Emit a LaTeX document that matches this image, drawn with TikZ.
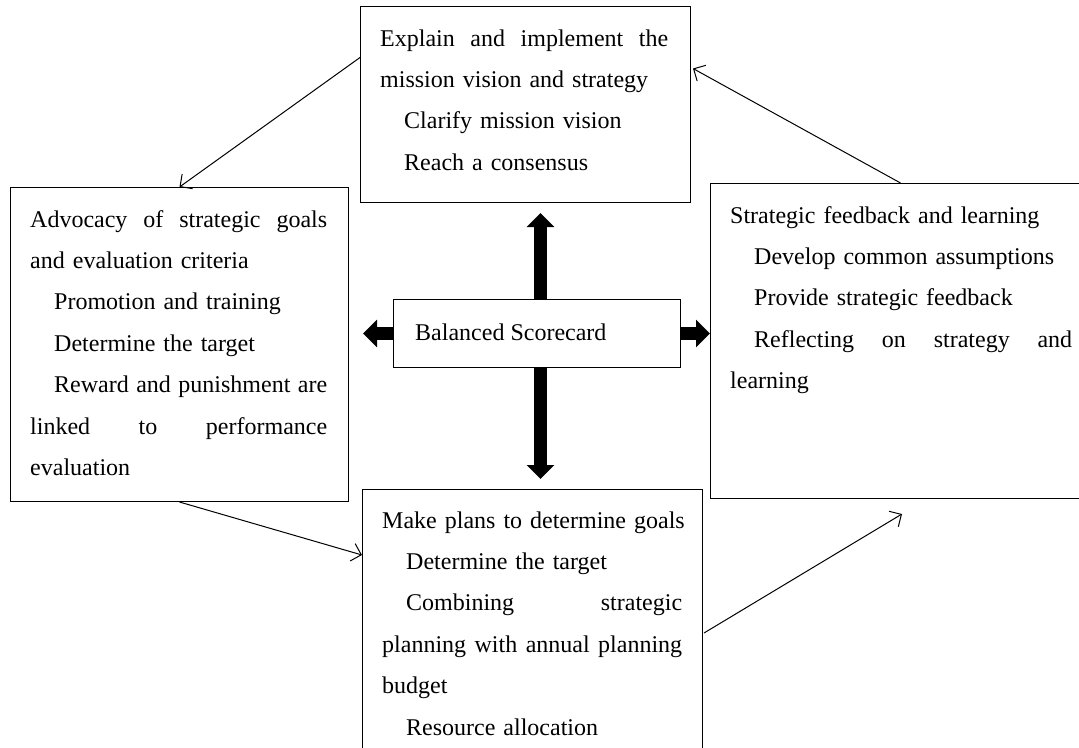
\documentclass[tikz,border=0pt]{standalone}
\usepackage{fontspec}
\setmainfont{Liberation Serif}
\usetikzlibrary{arrows.meta,calc}
\tikzset{
  box/.style={draw=black, line width=1pt, inner sep=0pt, anchor=north west},
  txt/.style={anchor=base west, inner sep=0pt, align=left, font=\fontsize{24}{41.4}\selectfont},
  bigarrow/.style={line width=13pt, -{Triangle[length=14pt,width=27pt]}},
  thinarrow/.style={line width=1pt, -{Straight Barb[length=9pt,width=18pt]}},
}
\newcommand{\ind}{\hspace*{24pt}}
\newcommand{\jline}[2]{\leavevmode\hbox to #1pt{#2}}
\newcommand{\jind}[2]{\leavevmode\hbox to #1pt{\hspace*{24pt}#2}}
\newcommand{\hf}{\hfill}
\begin{document}
\begin{tikzpicture}[x=1pt,y=-1pt]
\useasboundingbox (0,0) rectangle (1079,747);
\clip (0,0) rectangle (1079,747);
% boxes
\node[box, minimum width=330, minimum height=196] (tbox) at (360,6) {};
\node[box, minimum width=338, minimum height=314] (lbox) at (10,187) {};
\node[box, minimum width=380, minimum height=315] (rbox) at (710,183) {};
\node[box, minimum width=340, minimum height=280] (bbox) at (362,489) {};
\node[box, minimum width=287, minimum height=68] (cbox) at (393,299) {};
% texts
\node[txt, text width=330] (ttxt) at (380,46) {\jline{288}{Explain\hf and\hf implement\hf the}\\
mission vision and strategy\\
\ind Clarify mission vision\\
\ind Reach a consensus};
\node[txt, text width=330] (ltxt) at (30,227) {\jline{297}{Advocacy\hf of\hf strategic\hf goals}\\
and evaluation criteria\\
\ind Promotion and training\\
\ind Determine the target\\
\jind{297}{Reward\hf and\hf punishment\hf are}\\
\jline{297}{linked\hf to\hf performance}\\
evaluation};
\node[txt, text width=380] (rtxt) at (730,223) {Strategic feedback and learning\\
\ind Develop common assumptions\\
\ind Provide strategic feedback\\
\jind{342}{Reflecting\hf on\hf strategy\hf and}\\
learning};
\node[txt, text width=340] (btxt) at (382,528) {Make plans to determine goals\\
\ind Determine the target\\
\jind{300}{Combining\hf strategic}\\
\jline{300}{planning\hf with\hf annual\hf planning}\\
budget\\
\ind Resource allocation};
\node[txt] (ctxt) at (415,340) {Balanced Scorecard};
% thick arrows
\draw[bigarrow] ([xshift=3.5pt]cbox.north) -- ([xshift=15pt,yshift=-10pt]tbox.south);
\draw[bigarrow] ([xshift=3.5pt]cbox.south) -- ([xshift=8pt,yshift=10pt]bbox.north);
\draw[bigarrow] (cbox.west) -- ($(cbox.west -| lbox.east)+(14,0)$);
\draw[bigarrow] (cbox.east) -- (cbox.east -| rbox.west);
% thin arrows
\coordinate (fb) at ($(rbox.south west)+(192,15)$);
\draw[thinarrow] ($(tbox.west)+(0,-47)$) -- (lbox.north);
\draw[thinarrow] (lbox.south) -- ($(bbox.north west)+(0,66)$);
\draw[thinarrow] ($(bbox.north east)+(1,144)$) -- (fb);
\draw[thinarrow] (rbox.north) -- ($(tbox.east)+(2,-36)$);
\end{tikzpicture}
\end{document}
